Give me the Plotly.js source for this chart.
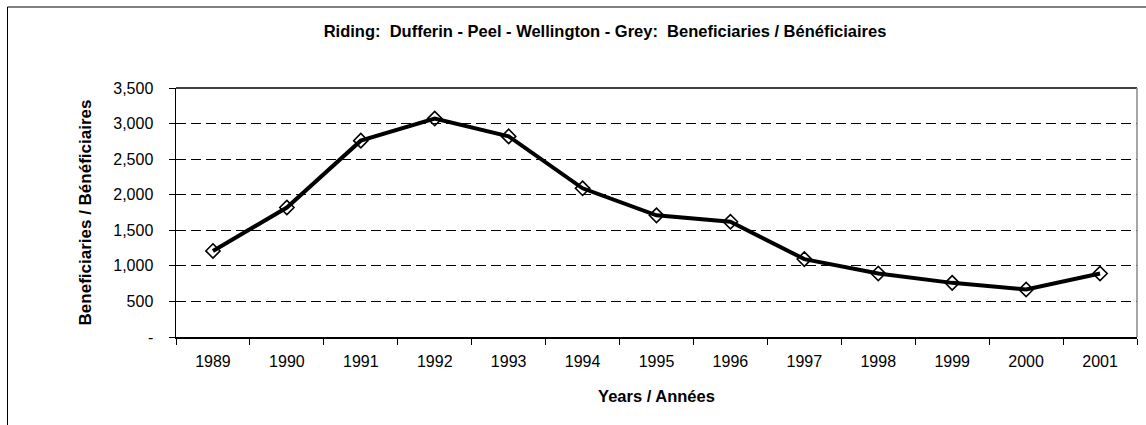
<!DOCTYPE html>
<html><head><meta charset="utf-8">
<script src="https://cdn.plot.ly/plotly-3.0.1.min.js"></script>
<style>html,body{margin:0;padding:0;background:#fff}#c{width:1146px;height:425px}</style>
</head><body><div id="c"></div>
<script>
const years = ['1989','1990','1991','1992','1993','1994','1995','1996','1997','1998','1999','2000','2001'];
const beneficiaries = [1210, 1820, 2760, 3070, 2820, 2090, 1710, 1620, 1095, 893, 761, 668, 893];
const yTickVals = [0, 500, 1000, 1500, 2000, 2500, 3000, 3500];
const yTickText = ['-', '500', '1,000', '1,500', '2,000', '2,500', '3,000', '3,500'];

const sans = '"Liberation Sans", Arial, sans-serif';
const trace = {
  x: years, y: beneficiaries, type: 'scatter', mode: 'lines+markers',
  line: {color: '#000', width: 4},
  marker: {symbol: 'diamond-open', size: 11, color: '#000', line: {color: '#000', width: 1.6}},
  hoverinfo: 'skip'
};
const layout = {
  width: 1146, height: 425,
  margin: {l: 176, r: 9, t: 88, b: 88},
  paper_bgcolor: '#fff', plot_bgcolor: '#fff',
  showlegend: false,
  font: {family: sans, size: 16, color: '#000'},
  title: {text: '<b>Riding:  Dufferin - Peel - Wellington - Grey:  Beneficiaries / Bénéficiaires</b>',
          font: {family: sans, size: 16.5, color: '#000'},
          x: 605/1146, xanchor: 'center', y: 1 - 31/425, yanchor: 'middle'},
  xaxis: {
    type: 'category', tickson: 'boundaries', ticks: 'outside', ticklen: 6, tickcolor: '#000',
    showgrid: false, showline: true, linecolor: '#000', linewidth: 1.5, zeroline: false,
    tickfont: {size: 16}, ticklabelstandoff: 9, range: [-0.5, 12.5],
    title: {text: '<b>Years / Années</b>', font: {family: sans, size: 16.5}, standoff: 21}
  },
  yaxis: {
    range: [0, 3500], tickvals: yTickVals, ticktext: yTickText,
    ticks: 'outside', ticklen: 6, tickcolor: '#000',
    showgrid: true, gridcolor: '#000', griddash: '10px,5px', gridwidth: 1,
    showline: true, linecolor: '#000', linewidth: 1.5, zeroline: false,
    tickfont: {size: 16}, ticklabelstandoff: 12,
    title: {text: '<b>Beneficiaries / Bénéficiaires</b>', font: {family: sans, size: 17}, standoff: 17}
  },
  shapes: [
    {type: 'line', xref: 'paper', yref: 'paper', x0: 0, x1: 1, y0: 1, y1: 1, line: {color: '#000', width: 1.5}},
    {type: 'line', xref: 'paper', yref: 'paper', x0: 1, x1: 1, y0: 0, y1: 1, line: {color: '#888', width: 1.5}},
    {type: 'rect', xref: 'paper', yref: 'paper', x0: (7.5-176)/961, x1: 1.05, y0: (336.7-7.5)/248.4, y1: -0.6, line: {color: '#000', width: 1}}
  ]
};
Plotly.newPlot('c', [trace], layout, {displayModeBar: false, staticPlot: true});
</script></body></html>
